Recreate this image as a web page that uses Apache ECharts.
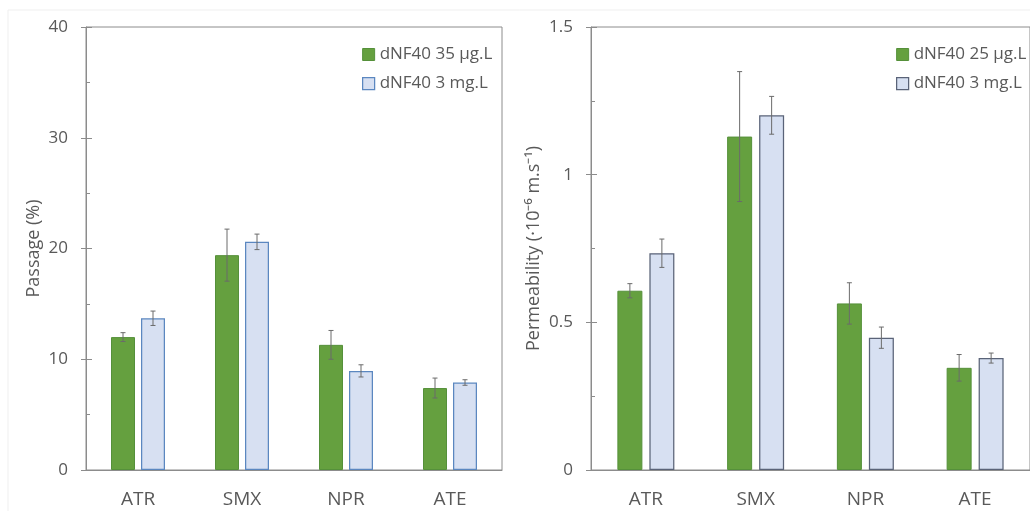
<!DOCTYPE html>
<html>
<head>
<meta charset="utf-8">
<script src="https://cdn.jsdelivr.net/npm/echarts@6/dist/echarts.min.js"></script>
<style>
html,body{margin:0;padding:0;background:#fff;}
#c{width:1030px;height:511px;}
</style>
</head>
<body>
<div id="c"></div>
<script>
const categories = ['ATR', 'SMX', 'NPR', 'ATE'];
const passageLowName = 'dNF40 35 µg.L';
const passageHighName = 'dNF40 3 mg.L';
const permLowName = 'dNF40 25 µg.L';
const permHighName = 'dNF40 3 mg.L';
const passageLow = [12.0, 19.4, 11.3, 7.4];
const passageLowErr = [0.4, 2.35, 1.3, 0.9];
const passageHigh = [13.7, 20.6, 8.95, 7.9];
const passageHighErr = [0.65, 0.7, 0.55, 0.25];
const permLow = [0.607, 1.129, 0.564, 0.346];
const permLowErr = [0.024, 0.22, 0.07, 0.045];
const permHigh = [0.734, 1.201, 0.448, 0.379];
const permHighErr = [0.048, 0.064, 0.036, 0.017];
const passageAxisName = 'Passage (%)';
const permAxisName = 'Permeability (·10⁻⁶ m.s⁻¹)';

const FONT = 'Open Sans';
const TXT = '#595959';
const AX = '#8c8c8c';
const GREEN = '#65a03f', GREEN_B = '#55903a';
const BLUE = '#d7e0f2', BLUE_B_L = '#5b87c0', BLUE_B_R = '#5a6378';
const ERR = '#6b6b6b';

function errSeries(xi, yi, vals, errs, offset) {
  return {
    type: 'custom', xAxisIndex: xi, yAxisIndex: yi, silent: true, z: 10,
    data: vals.map((v, i) => [i, v - errs[i], v + errs[i]]),
    encode: { x: 0, y: [1, 2] },
    renderItem: function (params, api) {
      const lo = api.coord([api.value(0), api.value(1)]);
      const hi = api.coord([api.value(0), api.value(2)]);
      const x = lo[0] + offset;
      const st = { stroke: ERR, lineWidth: 1 };
      return {
        type: 'group', children: [
          { type: 'line', shape: { x1: x, y1: lo[1], x2: x, y2: hi[1] }, style: st },
          { type: 'line', shape: { x1: x - 2.5, y1: hi[1], x2: x + 2.5, y2: hi[1] }, style: st },
          { type: 'line', shape: { x1: x - 2.5, y1: lo[1], x2: x + 2.5, y2: lo[1] }, style: st }
        ]
      };
    }
  };
}

function mainY(gi, max, interval, name, nameGap) {
  return {
    type: 'value', gridIndex: gi, position: 'left', min: 0, max: max, interval: interval,
    name: name, nameLocation: 'middle', nameGap: nameGap,
    nameTextStyle: { color: TXT, fontSize: 18, fontFamily: FONT },
    axisLine: { show: true, lineStyle: { color: AX, width: 1 } },
    axisTick: { show: true, length: 5, lineStyle: { color: AX } },
    axisLabel: { color: TXT, fontSize: 17, fontFamily: FONT, margin: 18 },
    splitLine: { show: false }
  };
}
function tickY(gi, max, interval) {
  return {
    type: 'value', gridIndex: gi, position: 'left', offset: 0, min: 0, max: max, interval: interval,
    axisLine: { show: false },
    axisTick: { show: true, inside: true, length: 6, lineStyle: { color: AX } },
    minorTick: { show: true, splitNumber: 2, length: 4, lineStyle: { color: AX } },
    axisLabel: { show: false },
    splitLine: { show: false }
  };
}
function xAx(gi) {
  return {
    type: 'category', gridIndex: gi, data: categories,
    axisLine: { show: true, lineStyle: { color: AX, width: 1 } },
    axisTick: { show: false },
    axisLabel: { color: TXT, fontSize: 19, fontFamily: FONT, margin: 20 }
  };
}
function legend(left, top, items) {
  return {
    orient: 'vertical', left: left, top: top, padding: 0, itemGap: 12,
    itemWidth: 12, itemHeight: 12, icon: 'rect', selectedMode: false,
    textStyle: { color: TXT, fontSize: 17, fontFamily: FONT, lineHeight: 17 },
    data: items
  };
}

const chart = echarts.init(document.getElementById('c'));
chart.setOption({
  animation: false,
  backgroundColor: '#fff',
  graphic: [{ type: 'rect', shape: { x: 8, y: 10, width: 1100, height: 600 }, style: { fill: 'none', stroke: '#efefef', lineWidth: 1 }, silent: true }],
  grid: [
    { left: 86, top: 27, width: 416, height: 443, show: true, borderColor: AX, borderWidth: 1, backgroundColor: 'transparent' },
    { left: 591, top: 27, width: 442, height: 443, show: true, borderColor: AX, borderWidth: 1, backgroundColor: 'transparent' }
  ],
  legend: [
    legend(362, 46, [
      { name: passageLowName, itemStyle: { color: GREEN, borderColor: GREEN_B, borderWidth: 1 } },
      { name: passageHighName, itemStyle: { color: BLUE, borderColor: BLUE_B_L, borderWidth: 1.25 } }
    ]),
    legend(896, 46, [
      { name: permLowName, itemStyle: { color: GREEN, borderColor: GREEN_B, borderWidth: 1 } },
      { name: permHighName, itemStyle: { color: BLUE, borderColor: BLUE_B_R, borderWidth: 1.25 } }
    ])
  ],
  xAxis: [xAx(0), xAx(1)],
  yAxis: [
    mainY(0, 40, 10, passageAxisName, 43),
    tickY(0, 40, 10),
    mainY(1, 1.5, 0.5, permAxisName, 48),
    tickY(1, 1.5, 0.5)
  ],
  series: [
    { type: 'bar', name: passageLowName, xAxisIndex: 0, yAxisIndex: 0, data: passageLow, barWidth: 24, barGap: '25%',
      itemStyle: { color: GREEN, borderColor: GREEN_B, borderWidth: 1 } },
    { type: 'bar', name: passageHighName, xAxisIndex: 0, yAxisIndex: 0, data: passageHigh, barWidth: 24, barGap: '25%',
      itemStyle: { color: BLUE, borderColor: BLUE_B_L, borderWidth: 1.25 } },
    { type: 'bar', name: permLowName, xAxisIndex: 1, yAxisIndex: 2, data: permLow, barWidth: 25, barGap: '28%',
      itemStyle: { color: GREEN, borderColor: GREEN_B, borderWidth: 1 } },
    { type: 'bar', name: permHighName, xAxisIndex: 1, yAxisIndex: 2, data: permHigh, barWidth: 25, barGap: '28%',
      itemStyle: { color: BLUE, borderColor: BLUE_B_R, borderWidth: 1.25 } },
    errSeries(0, 0, passageLow, passageLowErr, -15),
    errSeries(0, 0, passageHigh, passageHighErr, 15),
    errSeries(1, 2, permLow, permLowErr, -16),
    errSeries(1, 2, permHigh, permHighErr, 16)
  ]
});
</script>
</body>
</html>
